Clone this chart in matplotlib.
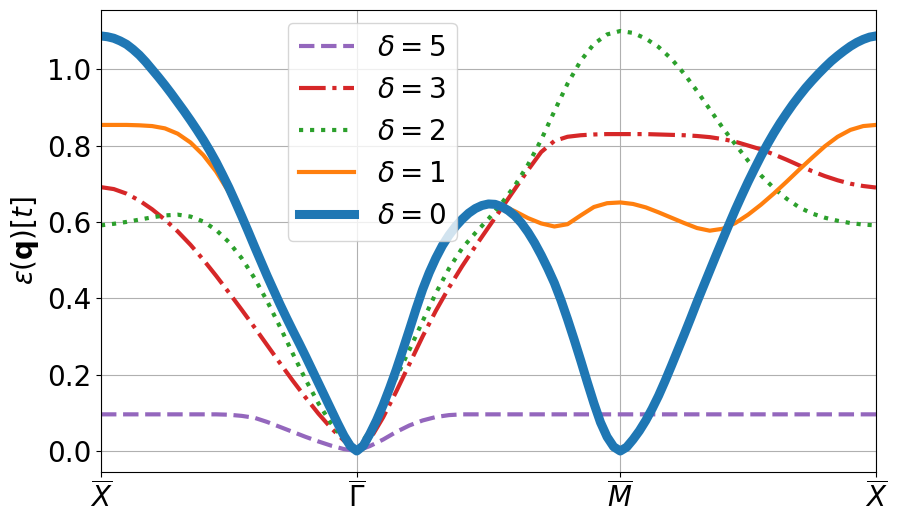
import numpy as np
import matplotlib.pyplot as plt

# high-symmetry points of the path X -> Gamma -> M -> X
k_ticks = [0.0, 0.99, 2.01, 3.0]
k_labels = [r"$\overline{X}$", r"$\overline{\Gamma}$", r"$\overline{M}$", r"$\overline{X}$"]

# dispersion values (units of t)
# delta = 0 sampled with 40 points per segment, the others with 20
eps_d0 = [1.087, 1.085, 1.081, 1.074, 1.065, 1.052, 1.037, 1.019, 0.999, 0.979,
          0.958, 0.936, 0.913, 0.890, 0.866, 0.841, 0.815, 0.787, 0.757, 0.724,
          0.69, 0.653, 0.615, 0.576, 0.536, 0.497, 0.458, 0.421, 0.384, 0.349,
          0.315, 0.282, 0.248, 0.213, 0.178, 0.143, 0.108, 0.073, 0.04, 0.013, 0.0,
          0.014, 0.045, 0.08, 0.12, 0.165, 0.213, 0.265, 0.318, 0.372, 0.423,
          0.467, 0.505, 0.538, 0.565, 0.588, 0.607, 0.623, 0.635, 0.643, 0.647,
          0.646, 0.64, 0.63, 0.616, 0.597, 0.573, 0.545, 0.513, 0.478, 0.44,
          0.395, 0.345, 0.292, 0.237, 0.18, 0.125, 0.075, 0.037, 0.011, 0.0,
          0.01, 0.03, 0.053, 0.08, 0.111, 0.145, 0.183, 0.223, 0.264, 0.305,
          0.347, 0.39, 0.431, 0.472, 0.513, 0.553, 0.593, 0.632, 0.669, 0.705,
          0.739, 0.772, 0.803, 0.832, 0.859, 0.884, 0.908, 0.93, 0.951, 0.97,
          0.988, 1.005, 1.021, 1.035, 1.048, 1.06, 1.07, 1.078, 1.084, 1.087]
eps_d1 = [0.854, 0.854, 0.854, 0.853, 0.851, 0.845, 0.831, 0.808, 0.775, 0.732, 0.678,
          0.61, 0.532, 0.452, 0.378, 0.308, 0.243, 0.178, 0.112, 0.045, 0.0,
          0.048, 0.125, 0.22, 0.325, 0.42, 0.5, 0.562, 0.606, 0.636, 0.65,
          0.644, 0.628, 0.61, 0.596, 0.588, 0.594, 0.617, 0.639, 0.649, 0.651,
          0.647, 0.638, 0.625, 0.611, 0.597, 0.584, 0.577, 0.582, 0.597, 0.619,
          0.645, 0.674, 0.705, 0.737, 0.768, 0.798, 0.823, 0.841, 0.851, 0.854]
eps_d2 = [0.591, 0.595, 0.6, 0.606, 0.612, 0.617, 0.619, 0.614, 0.601, 0.579, 0.547,
          0.505, 0.453, 0.392, 0.325, 0.255, 0.187, 0.125, 0.072, 0.03, 0.0,
          0.055, 0.123, 0.193, 0.265, 0.34, 0.413, 0.478, 0.531, 0.571, 0.608,
          0.649, 0.695, 0.75, 0.815, 0.89, 0.962, 1.022, 1.066, 1.091, 1.1,
          1.095, 1.08, 1.058, 1.027, 0.988, 0.943, 0.895, 0.847, 0.803, 0.76,
          0.722, 0.689, 0.661, 0.638, 0.622, 0.611, 0.603, 0.597, 0.593, 0.591]
eps_d3 = [0.691, 0.686, 0.674, 0.656, 0.633, 0.606, 0.575, 0.54, 0.501, 0.459, 0.415,
          0.37, 0.324, 0.277, 0.23, 0.184, 0.14, 0.098, 0.06, 0.027, 0.0,
          0.03, 0.088, 0.156, 0.228, 0.3, 0.367, 0.428, 0.484, 0.536, 0.586,
          0.636, 0.686, 0.736, 0.783, 0.812, 0.823, 0.827, 0.829, 0.83, 0.83,
          0.83, 0.83, 0.829, 0.828, 0.827, 0.825, 0.822, 0.817, 0.81, 0.8,
          0.79, 0.777, 0.763, 0.748, 0.733, 0.72, 0.709, 0.7, 0.694, 0.69]
eps_d5 = [0.096, 0.096, 0.096, 0.096, 0.096, 0.096, 0.096, 0.096, 0.096, 0.096, 0.095,
          0.092, 0.087, 0.076, 0.063, 0.05, 0.037, 0.025, 0.014, 0.005, 0.0,
          0.013, 0.03, 0.05, 0.067, 0.08, 0.089, 0.094, 0.096, 0.096, 0.096,
          0.096, 0.096, 0.096, 0.096, 0.096, 0.096, 0.096, 0.096, 0.096, 0.096,
          0.096, 0.096, 0.096, 0.096, 0.096, 0.096, 0.096, 0.096, 0.096, 0.096,
          0.096, 0.096, 0.096, 0.096, 0.096, 0.096, 0.096, 0.096, 0.096, 0.096]


def path(n_seg):
    # n_seg samples per segment between the high-symmetry points
    parts = [np.linspace(k_ticks[0], k_ticks[1], n_seg + 1)]
    for i in (1, 2):
        parts.append(np.linspace(k_ticks[i], k_ticks[i + 1], n_seg + 1)[1:])
    return np.concatenate(parts)


k20 = path(20)
k40 = path(40)

plt.rcParams['font.size'] = 20
fig = plt.figure(figsize=(8.97, 5.23), dpi=100)
ax = fig.add_axes([101 / 897, 51 / 523, 775 / 897, 462 / 523])

ax.plot(k20, eps_d5, '--', color='C4', lw=3, label=r'$\delta = 5$')
ax.plot(k20, eps_d3, '-.', color='C3', lw=3, label=r'$\delta = 3$')
ax.plot(k20, eps_d2, ':', color='C2', lw=3, label=r'$\delta = 2$')
ax.plot(k20, eps_d1, '-', color='C1', lw=3, label=r'$\delta = 1$')
ax.plot(k40, eps_d0, '-', color='C0', lw=6.5, label=r'$\delta = 0$')

ax.set_xlim(k_ticks[0], k_ticks[-1])
ax.set_xticks(k_ticks)
ax.set_xticklabels(k_labels)
ax.set_ylabel(r'$\varepsilon(\mathbf{q})[t]$')
ax.grid(True)
ax.legend(loc='upper left', bbox_to_anchor=(0.241, 0.972), borderaxespad=0)

fig.savefig('out.png', dpi=100)
